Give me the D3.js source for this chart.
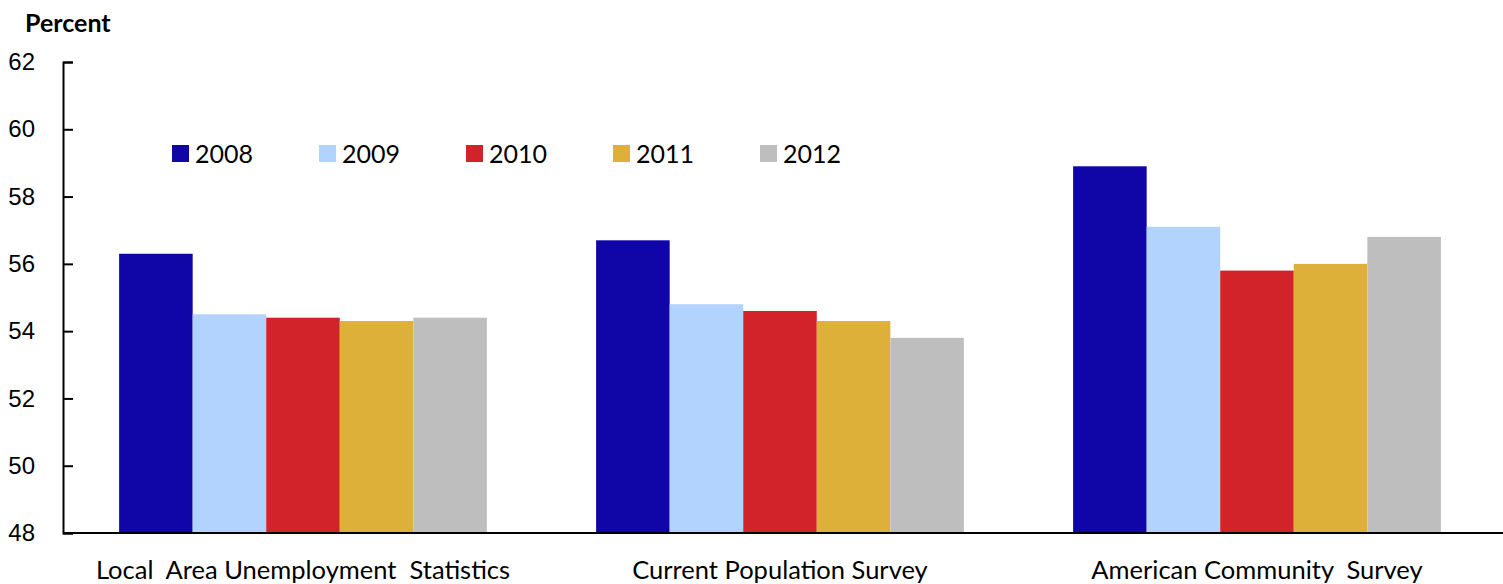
<!DOCTYPE html>
<html>
<head>
<meta charset="utf-8">
<script src="https://cdn.jsdelivr.net/npm/d3@7"></script>
<style>
  body { margin: 0; background: #fff; }
  svg { display: block; font-family: Lato, "Noto Sans", sans-serif; }
  .axis text { font-size: 24px; fill: #000; }
  .axis path, .axis line { stroke: #000; stroke-width: 2px; }
</style>
</head>
<body>
<svg id="chart" width="1503" height="584"></svg>
<script>
// survey sources and years
const categories = ["Local  Area Unemployment  Statistics", "Current Population Survey", "American Community  Survey"];
const years = ["2008", "2009", "2010", "2011", "2012"];
const yearColors = ["#1005a6", "#b1d3fd", "#d2232a", "#ddb03a", "#bebebe"];

// percent values by year, one per category
const values2008 = [56.3, 56.7, 58.9];
const values2009 = [54.5, 54.8, 57.1];
const values2010 = [54.4, 54.6, 55.8];
const values2011 = [54.3, 54.3, 56.0];
const values2012 = [54.4, 53.8, 56.8];

const yTicks = [48, 50, 52, 54, 56, 58, 60, 62];

const seriesValues = [values2008, values2009, values2010, values2011, values2012];

const svg = d3.select("#chart");
const margin = {top: 62, left: 63, bottom: 533};

const x = d3.scaleBand()
    .domain(categories)
    .range([64.5, 1495.5])
    .paddingInner(0.229)
    .paddingOuter(0.1145);

const xYear = d3.scaleBand()
    .domain(years)
    .range([0, x.bandwidth()]);

const y = d3.scaleLinear()
    .domain([48, 62])
    .range([margin.bottom, margin.top]);

const color = d3.scaleOrdinal().domain(years).range(yearColors);

// bars
const groups = svg.append("g")
    .selectAll("g")
    .data(categories)
    .join("g")
    .attr("transform", d => `translate(${x(d)},0)`);

groups.selectAll("rect")
    .data((d, i) => years.map((yr, j) => ({year: yr, value: seriesValues[j][i]})))
    .join("rect")
    .attr("x", d => xYear(d.year))
    .attr("y", d => y(d.value))
    .attr("width", xYear.bandwidth())
    .attr("height", d => y(48) - y(d.value))
    .attr("fill", d => color(d.year));

// y axis, ticks pointing inward
const yAxis = svg.append("g")
    .attr("class", "axis")
    .attr("transform", `translate(${margin.left},0)`)
    .call(d3.axisLeft(y).tickValues(yTicks).tickSizeInner(-10).tickSizeOuter(-10).tickPadding(28));

// baseline across the full width
svg.append("line")
    .attr("x1", margin.left)
    .attr("x2", 1503)
    .attr("y1", y(48))
    .attr("y2", y(48))
    .attr("stroke", "#000")
    .attr("stroke-width", 2);

// category labels
svg.append("g")
    .selectAll("text")
    .data(categories)
    .join("text")
    .attr("x", d => x(d) + x.bandwidth() / 2)
    .attr("y", 579)
    .attr("text-anchor", "middle")
    .style("font-size", "25.5px")
    .style("white-space", "pre")
    .attr("xml:space", "preserve")
    .text(d => d);

// y title
svg.append("text")
    .attr("x", 25)
    .attr("y", 32)
    .style("font-size", "25px")
    .style("font-weight", "bold")
    .text("Percent");

// legend
const legend = svg.append("g")
    .selectAll("g")
    .data(years)
    .join("g")
    .attr("transform", (d, i) => `translate(${172 + i * 147},145)`);

legend.append("rect")
    .attr("width", 17)
    .attr("height", 17)
    .attr("fill", d => color(d));

legend.append("text")
    .attr("x", 23)
    .attr("y", 17.5)
    .style("font-size", "25px")
    .text(d => d);
</script>
</body>
</html>
